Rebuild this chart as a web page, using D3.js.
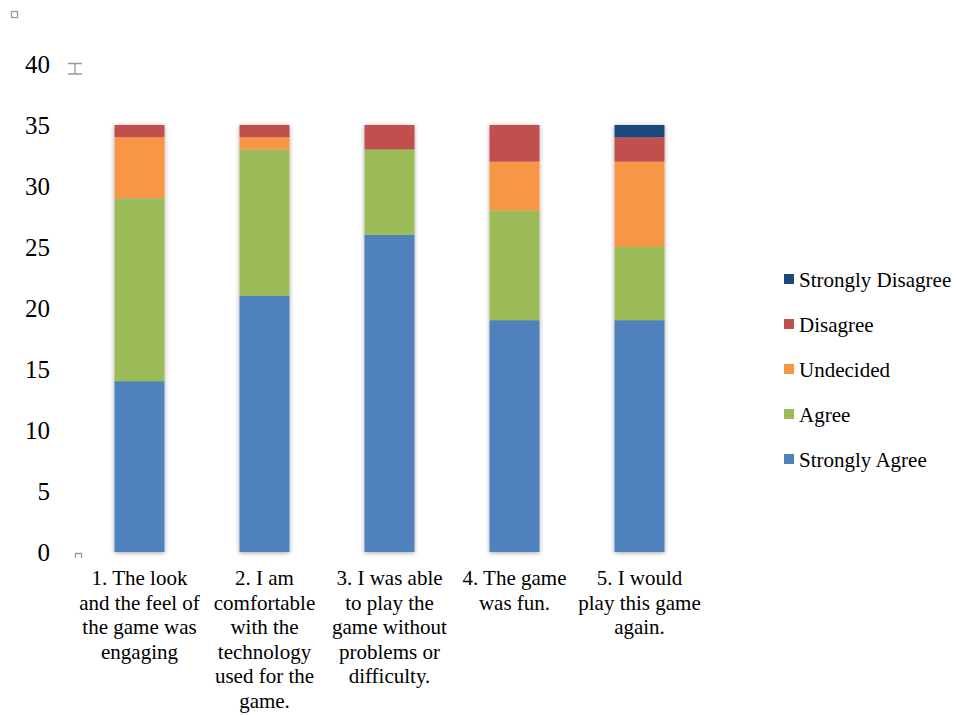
<!DOCTYPE html>
<html>
<head>
<meta charset="utf-8">
<script src="https://cdn.jsdelivr.net/npm/d3@7"></script>
<style>
  body { margin: 0; background: #fff; }
  svg { display: block; }
</style>
</head>
<body>
<div id="chart"></div>
<script>
const categories = [
  "1. The look|and the feel of|the game was|engaging",
  "2. I am|comfortable|with the|technology|used for the|game.",
  "3. I was able|to play the|game without|problems or|difficulty.",
  "4. The game|was fun.",
  "5. I would|play this game|again."
];
const seriesNames = ["Strongly Agree", "Agree", "Undecided", "Disagree", "Strongly Disagree"];
const stronglyAgree = [14, 21, 26, 19, 19];
const agree = [15, 12, 7, 9, 6];
const undecided = [5, 1, 0, 4, 7];
const disagree = [1, 1, 2, 3, 2];
const stronglyDisagree = [0, 0, 0, 0, 1];
const colors = ["#4F81BD", "#9BBB59", "#F79646", "#C0504D", "#1F497D"];
const yTicks = [0, 5, 10, 15, 20, 25, 30, 35, 40];

const width = 956, height = 715;
const seriesValues = [stronglyAgree, agree, undecided, disagree, stronglyDisagree];
const rows = categories.map((c, i) => {
  const r = { cat: c };
  seriesNames.forEach((s, j) => (r[s] = seriesValues[j][i]));
  return r;
});
const stack = d3.stack().keys(seriesNames)(rows);

const svg = d3.select("#chart").append("svg")
  .attr("width", width).attr("height", height);

const defs = svg.append("defs");
const f = defs.append("filter").attr("id", "shadow")
  .attr("x", "-10%").attr("y", "-10%").attr("width", "120%").attr("height", "120%");
f.append("feGaussianBlur").attr("in", "SourceAlpha").attr("stdDeviation", 2.5).attr("result", "b");
f.append("feOffset").attr("in", "b").attr("dx", 0).attr("dy", 1).attr("result", "o");
f.append("feComponentTransfer").attr("in", "o").attr("result", "s")
  .append("feFuncA").attr("type", "linear").attr("slope", 0.35);
const m = f.append("feMerge");
m.append("feMergeNode").attr("in", "s");
m.append("feMergeNode").attr("in", "SourceGraphic");

const x = d3.scaleBand().domain(categories).range([77, 702])
  .paddingInner(0.6).paddingOuter(0.3);
const y = d3.scaleLinear().domain([0, 40]).range([552, 64]);

// y axis labels (no line)
const yAxis = svg.append("g").attr("transform", "translate(50,0)")
  .call(d3.axisLeft(y).tickValues(yTicks).tickSize(0).tickPadding(0));
yAxis.select(".domain").remove();
yAxis.selectAll("text")
  .attr("font-family", "'Liberation Serif', 'DejaVu Serif', serif")
  .attr("font-size", 25).attr("fill", "#000");

// bars
const bars = svg.append("g").attr("filter", "url(#shadow)");
stack.forEach((layer, j) => {
  bars.append("g").attr("fill", colors[j])
    .selectAll("rect").data(layer.filter(d => d[1] > d[0])).join("rect")
    .attr("x", d => x(d.data.cat))
    .attr("width", x.bandwidth())
    .attr("y", d => y(d[1]))
    .attr("height", d => y(d[0]) - y(d[1]));
});

// category labels
const labels = svg.append("g")
  .attr("font-family", "'Liberation Serif', 'Times New Roman', serif")
  .attr("font-size", 21).attr("fill", "#000").attr("text-anchor", "middle");
categories.forEach(c => {
  const t = labels.append("text").attr("x", x(c) + x.bandwidth() / 2).attr("y", 585);
  c.split("|").forEach((line, i) => {
    t.append("tspan").attr("x", x(c) + x.bandwidth() / 2).attr("dy", i ? 24.5 : 0).text(line);
  });
});

// legend
const legendOrder = seriesNames.slice().reverse();
const legend = svg.append("g")
  .attr("font-family", "'Liberation Serif', 'Times New Roman', serif")
  .attr("font-size", 21).attr("fill", "#000");
legendOrder.forEach((s, i) => {
  const cy = 280 + i * 45;
  legend.append("rect").attr("x", 784).attr("y", cy - 6).attr("width", 10).attr("height", 10)
    .attr("fill", colors[seriesNames.indexOf(s)]);
  legend.append("text").attr("x", 799).attr("y", cy + 7).text(s);
});

// small gray handle marks
const g = svg.append("g").attr("stroke", "#999").attr("fill", "none").attr("stroke-width", 1.3);
g.append("rect").attr("x", 11.5).attr("y", 11.5).attr("width", 6).attr("height", 6);
g.append("path").attr("d", "M68,63.5H82M75,63.5V74M68,74H82");
g.append("path").attr("d", "M75.5,558V553.5H81.5V558");
</script>
</body>
</html>
